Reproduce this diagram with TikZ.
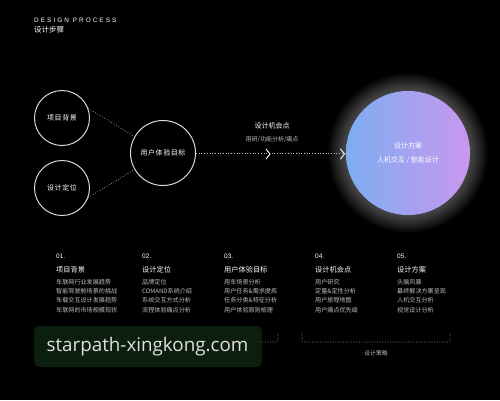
\documentclass[tikz,border=0pt]{standalone}
\usepackage{fontspec}
\setmainfont{Liberation Sans}
\newfontfamily\cjk{Noto Sans CJK SC}
\newfontfamily\cjksp[LetterSpace=8]{Noto Sans CJK SC}
\newfontfamily\spaced[LetterSpace=32]{Liberation Sans}
\newfontfamily\wm{Open Sans}
\usetikzlibrary{calc}
\definecolor{ring}{HTML}{D8D8E0}
\definecolor{dim}{HTML}{BDBDBD}
\definecolor{gblue}{HTML}{7DAEF2}
\definecolor{gviolet}{HTML}{C997EE}
\definecolor{wmgreen}{HTML}{0E220F}
\begin{document}
\begin{tikzpicture}[x=1pt,y=-1pt,
  ringnode/.style={circle,draw=ring,line width=1pt,inner sep=0pt,text=white,font=\cjksp\fontsize{7}{8}\selectfont},
  dotline/.style={draw=dim,dotted,line width=0.7pt},
  chev/.style={draw=white,line width=0.9pt,line cap=round,line join=miter},
  numtxt/.style={anchor=west,text=white,font=\fontsize{6.5}{8}\selectfont,inner sep=0pt},
  ttltxt/.style={anchor=west,text=white,font=\cjk\fontsize{7.2}{8}\selectfont,inner sep=0pt},
  itemtxt/.style={anchor=west,text=dim,font=\cjk\fontsize{6.1}{7}\selectfont,inner sep=0pt},
  lbl/.style={text=white,font=\cjk\fontsize{7}{8}\selectfont,inner sep=0pt},
  sublbl/.style={text=dim,font=\cjk\fontsize{6}{7}\selectfont,inner sep=0pt}]
\fill[black] (0,0) rectangle (500,400);
\useasboundingbox (0,0) rectangle (500,400);

% header
\node[anchor=west,inner sep=0pt,text=white,font=\spaced\fontsize{6.4}{7}\selectfont] (hd1) at (34,20) {DESIGN PROCESS};
\node[anchor=west,inner sep=0pt,text=white,font=\cjk\fontsize{7.5}{8}\selectfont] (hd2) at (34,29.5) {设计步骤};

% glow and gradient circle
\foreach \r in {63,64,...,80}{
  \fill[white,opacity=0.018] (408,153) circle (\r);
}
\shade[left color=gblue,right color=gviolet] (408,153) circle (62);
\node[circle,minimum size=124pt,inner sep=0pt] (big) at (408,153) {};
\node[lbl] (bigt1) at (408,146) {设计方案};
\node[lbl] (bigt2) at (408,160) {人机交互 / 智能设计};

% small circles
\node[ringnode,minimum size=55pt] (c1) at (62,118) {项目背景};
\node[ringnode,minimum size=55pt] (c2) at (62,188) {设计定位};
\node[ringnode,minimum size=65pt] (c3) at (163,153) {用户体验目标};

\draw[dotline] (c1.20) -- (c3.150);
\draw[dotline] (c2.-20) -- (c3.-150);
\draw[dotline] (c3.east) -- (big.west);

\coordinate (k1) at (270,154);
\coordinate (k2) at (344.5,154);
\draw[chev] ($(k1)+(-4,-5)$) -- (k1) -- ($(k1)+(-4,5)$);
\draw[chev] ($(k2)+(-4,-5)$) -- (k2) -- ($(k2)+(-4,5)$);

\node[lbl] (op1) at (272,126) {设计机会点};
\node[sublbl] (op2) at (272,139.5) {用研/功能分析/痛点};

% columns
\foreach \x/\n/\t/\a/\b/\c/\d in {
  56/01./项目背景/车联网行业发展趋势/智能驾驶舱场景的挑战/车载交互设计发展趋势/车联网的市场规模现状,
  142/02./设计定位/品牌定位/COMAND系统介绍/系统交互方式分析/流程体验痛点分析,
  224/03./用户体验目标/用车场景分析/用户任务\&需求提炼/任务分类\&特征分析/用户体验原则梳理,
  315/04./设计机会点/用户研究/定量\&定性分析/用户旅程地图/用户痛点优先级,
  397/05./设计方案/头脑风暴/最终解决方案呈现/人机交互分析/视觉设计分析}{
  \node[numtxt] at (\x,256) {\n};
  \node[ttltxt] at (\x,269.5) {\t};
  \node[itemtxt] at (\x,282) {\a};
  \node[itemtxt] at (\x,291.3) {\b};
  \node[itemtxt] at (\x,300.6) {\c};
  \node[itemtxt] at (\x,309.9) {\d};
}

% brackets
\coordinate (b1a) at (52,333); \coordinate (b1b) at (278,333);
\coordinate (b2a) at (302,333); \coordinate (b2b) at (450,333);
\draw[dotline,line width=0.6pt,rounded corners=2pt] (b1a) -- ++(0,9) -| (b1b);
\draw[dotline,line width=0.6pt,rounded corners=2pt] (b2a) -- ++(0,9) -| (b2b);
\node[sublbl,font=\cjk\fontsize{5.8}{7}\selectfont] (st2) at (376,353) {设计策略};

% watermark
\fill[wmgreen,opacity=0.9,rounded corners=6pt] (34,326) rectangle (262,367);
\node[inner sep=0pt,text=white!88!black,font=\wm\fontsize{18.8}{20}\selectfont] (wmt) at (147.5,347) {starpath-xingkong.com};
\end{tikzpicture}
\end{document}
